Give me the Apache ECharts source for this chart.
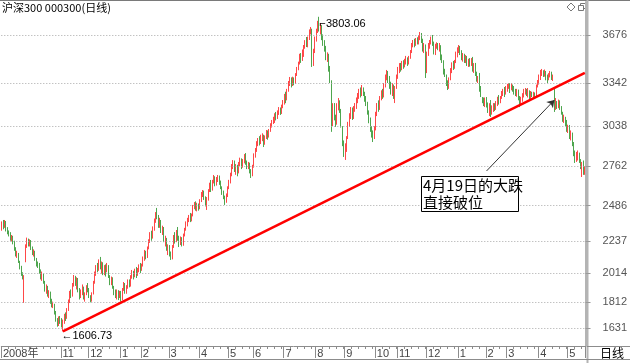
<!DOCTYPE html>
<html><head><meta charset="utf-8">
<script src="https://cdn.jsdelivr.net/npm/echarts@6/dist/echarts.min.js"></script>
<style>html,body{margin:0;padding:0;background:#fff}#c{width:630px;height:363px}</style>
</head><body><div id="c"></div>
<script>
// month labels along the date band and the number of trading days in each
const monthLabels = ['2008年','11','12','1','2','3','4','5','6','7','8','9','10','11','12','1','2','3','4','5'];
const monthDays = [43,20,23,15,20,22,21,18,22,23,21,22,16,21,23,20,15,23,21,13];
// price-axis tick values
const yTicks = [1631,1812,2014,2237,2486,2762,3038,3342,3676];
// daily candles: [open, close, low, high]
const ohlc = [
[2330,2360,2310,2375],[2360,2340,2320,2385],[2340,2372,2330,2385],[2370,2320,2305,2378],[2320,2300,2285,2335],
[2300,2290,2270,2312],[2290,2250,2240,2300],[2250,2270,2235,2280],[2265,2230,2215,2275],[2230,2180,2170,2240],
[2180,2150,2130,2195],[2150,2160,2120,2170],[2150,2095,2085,2155],[2095,2060,2040,2100],[2060,2010,1995,2065],
[2010,1985,1970,2020],[1880,1990,1806,2000],[2100,2200,2090,2215],[2210,2259,2190,2262],[2245,2215,2200,2255],
[2215,2240,2200,2250],[2235,2190,2175,2245],[2190,2160,2140,2200],[2160,2175,2130,2180],[2160,2110,2100,2170],
[2110,2080,2060,2120],[2080,2070,2050,2095],[2070,2030,2010,2085],[2020,1990,1970,2040],[1990,2010,1960,2025],
[2000,1950,1940,2010],[1950,1900,1885,1960],[1900,1920,1870,1935],[1915,1860,1850,1925],[1860,1880,1840,1895],
[1870,1820,1800,1885],[1820,1790,1775,1835],[1790,1805,1770,1815],[1790,1740,1725,1800],[1740,1690,1675,1750],
[1690,1660,1640,1700],[1660,1700,1645,1712],[1700,1680,1660,1715],[1680,1650,1635,1700],[1650,1685,1606.73,1690],
[1690,1720,1660,1730],[1715,1700,1680,1740],[1700,1760,1695,1770],[1760,1820,1750,1830],[1815,1880,1805,1890],
[1880,1860,1840,1900],[1860,1930,1850,1945],[1930,1990,1920,2001],[1985,1940,1925,1995],[1940,1975,1900,1985],
[1970,1900,1880,1980],[1900,1850,1830,1910],[1850,1890,1840,1900],[1890,1920,1860,1935],[1910,1845,1830,1920],
[1845,1870,1815,1880],[1870,1920,1860,1930],[1920,1900,1880,1945],[1900,1850,1840,1910],[1850,1830,1810,1860],
[1830,1870,1815,1880],[1870,1950,1865,1960],[1950,2010,1940,2025],[2005,2060,1995,2070],[2060,2040,2020,2085],
[2040,2100,2030,2110],[2095,2050,2040,2127],[2050,2080,2010,2095],[2075,2020,2000,2090],[2020,2060,2000,2070],
[2060,2030,1990,2075],[2030,2070,2020,2085],[2060,1990,1980,2070],[1990,1950,1930,2000],[1950,1980,1930,1990],
[1975,1920,1905,1985],[1920,1880,1860,1925],[1880,1860,1840,1900],[1860,1890,1830,1900],[1885,1850,1826,1895],
[1850,1880,1840,1890],[1880,1830,1815,1890],[1830,1900,1825,1910],[1900,1940,1890,1952],[1935,1890,1870,1945],
[1890,1920,1870,1930],[1920,1960,1905,1970],[1955,1925,1915,1970],[1925,1990,1920,2000],[1990,2020,1975,2036],
[2010,1990,1970,2030],[1990,2030,1985,2045],[2030,2000,1980,2057],[2000,2040,1995,2050],[2035,2060,2020,2075],
[2060,2040,2015,2085],[2040,2070,2030,2080],[2070,2120,2060,2130],[2115,2160,2100,2176],[2150,2130,2110,2170],
[2130,2190,2120,2200],[2190,2240,2180,2250],[2235,2290,2225,2300],[2285,2260,2240,2310],[2260,2330,2255,2340],
[2325,2380,2310,2395],[2380,2430,2365,2440],[2425,2400,2390,2469],[2400,2350,2330,2420],[2350,2380,2330,2400],
[2370,2310,2294,2385],[2310,2330,2280,2345],[2320,2240,2230,2336],[2240,2260,2200,2275],[2250,2180,2170,2260],
[2180,2200,2140,2215],[2195,2150,2130,2210],[2140,2120,2106,2165],[2120,2200,2110,2210],[2195,2270,2190,2280],
[2265,2240,2220,2300],[2240,2300,2230,2315],[2295,2260,2240,2336],[2260,2220,2196,2275],[2220,2260,2210,2270],
[2250,2215,2200,2265],[2215,2280,2205,2290],[2280,2320,2270,2330],[2320,2360,2310,2375],[2355,2390,2340,2400],
[2390,2400,2370,2420],[2400,2380,2370,2434],[2380,2420,2375,2430],[2420,2480,2410,2490],[2475,2500,2460,2510],
[2495,2460,2450,2515],[2460,2490,2445,2505],[2485,2470,2450,2500],[2470,2520,2460,2530],[2520,2570,2510,2580],
[2565,2590,2545,2594],[2585,2540,2525,2590],[2540,2500,2480,2550],[2500,2530,2455,2545],[2530,2590,2520,2600],
[2590,2630,2580,2645],[2625,2600,2580,2664],[2600,2650,2590,2665],[2650,2680,2640,2699],[2675,2640,2620,2690],
[2640,2670,2625,2685],[2665,2690,2650,2699],[2690,2650,2630,2695],[2650,2610,2600,2660],[2610,2580,2560,2620],
[2580,2540,2530,2590],[2540,2520,2490,2555],[2520,2560,2505,2570],[2555,2610,2545,2620],[2610,2650,2600,2665],
[2650,2700,2640,2715],[2700,2760,2690,2775],[2755,2790,2740,2803],[2785,2740,2720,2800],[2740,2760,2700,2775],
[2755,2720,2690,2770],[2720,2780,2710,2790],[2775,2800,2760,2820],[2800,2760,2740,2815],[2760,2800,2750,2810],
[2795,2830,2780,2845],[2830,2790,2770,2852],[2790,2760,2740,2800],[2760,2780,2740,2790],[2775,2730,2710,2785],
[2730,2700,2678,2740],[2700,2760,2690,2770],[2760,2840,2750,2850],[2840,2870,2820,2887],[2870,2920,2860,2935],
[2915,2950,2900,2957],[2945,2930,2905,2970],[2930,2960,2915,2980],[2955,2975,2935,2990],[2970,2920,2894,2980],
[2920,2960,2910,2975],[2960,3000,2950,3013],[2995,2970,2945,3010],[2970,3010,2960,3020],[3010,3050,3000,3060],
[3045,3070,3030,3083],[3070,3090,3055,3105],[3085,3120,3062,3130],[3120,3100,3080,3139],[3100,3140,3090,3150],
[3140,3160,3118,3173],[3155,3130,3118,3170],[3130,3180,3125,3190],[3180,3200,3165,3222],[3200,3250,3190,3265],
[3250,3230,3200,3280],[3230,3290,3220,3300],[3290,3340,3280,3355],[3335,3370,3320,3383],[3365,3330,3310,3380],
[3330,3370,3320,3385],[3365,3340,3325,3380],[3340,3400,3335,3410],[3400,3440,3390,3453],[3440,3480,3430,3490],
[3480,3530,3470,3545],[3525,3500,3481,3550],[3500,3560,3495,3575],[3555,3590,3523,3606],[3590,3620,3580,3640],
[3615,3600,3592,3662],[3600,3650,3590,3665],[3650,3700,3641,3715],[3695,3720,3680,3732],[3700,3480,3453,3720],
[3480,3560,3460,3580],[3560,3650,3550,3665],[3650,3700,3630,3720],[3700,3760,3690,3775],[3760,3720,3700,3803.06],
[3720,3740,3680,3760],[3735,3660,3640,3745],[3660,3620,3600,3680],[3620,3580,3560,3640],[3580,3520,3500,3600],
[3520,3540,3488,3555],[3530,3440,3420,3545],[3440,3360,3341,3460],[3350,3040,3000,3360],[3060,3180,3040,3200],
[3170,3100,3080,3201],[3100,3050,3034,3120],[3060,3180,3050,3200],[3170,3210,3150,3236],[3200,3150,3132,3220],
[3150,3040,3030,3160],[3030,2920,2900,3040],[2920,2850,2825,2940],[2850,2900,2804,2920],[2880,2960,2860,2970],
[2960,3050,2950,3070],[3050,3110,3034,3130],[3100,3150,3090,3173],[3150,3100,3083,3170],[3100,3160,3090,3180],
[3155,3190,3140,3201],[3185,3220,3160,3240],[3215,3250,3200,3271],[3245,3280,3230,3300],[3280,3260,3240,3310],
[3260,3300,3250,3327],[3295,3270,3250,3310],[3270,3230,3210,3280],[3230,3200,3180,3250],[3200,3140,3120,3210],
[3140,3080,3060,3150],[3080,3020,3000,3100],[3020,2990,2960,3040],[2990,2960,2929,3010],[2960,3020,2950,3040],
[3020,3120,3010,3140],[3120,3180,3110,3201],[3180,3160,3140,3220],[3160,3230,3153,3250],[3230,3270,3220,3290],
[3265,3250,3230,3300],[3250,3320,3240,3340],[3320,3380,3310,3400],[3380,3420,3360,3432],[3415,3370,3341,3425],
[3370,3330,3300,3390],[3330,3290,3260,3350],[3290,3320,3250,3340],[3310,3260,3230,3330],[3260,3310,3201,3320],
[3310,3380,3300,3400],[3380,3430,3370,3453],[3430,3460,3410,3480],[3455,3440,3420,3481],[3440,3480,3430,3495],
[3475,3460,3440,3500],[3460,3490,3450,3510],[3490,3510,3470,3530],[3505,3480,3460,3520],[3480,3520,3470,3530],
[3520,3560,3510,3571],[3555,3600,3550,3620],[3600,3630,3590,3641],[3625,3610,3590,3650],[3610,3640,3600,3655],
[3640,3620,3610,3660],[3620,3660,3610,3675],[3655,3680,3640,3697],[3675,3640,3620,3690],[3640,3580,3560,3650],
[3580,3600,3550,3620],[3600,3420,3376,3610],[3420,3540,3410,3560],[3540,3600,3530,3620],[3600,3630,3580,3641],
[3625,3650,3610,3665],[3650,3620,3600,3676],[3620,3560,3540,3630],[3560,3600,3536,3615],[3595,3610,3580,3625],
[3605,3580,3570,3620],[3580,3600,3560,3620],[3595,3520,3500,3605],[3520,3490,3481,3540],[3490,3420,3400,3500],
[3420,3390,3383,3440],[3390,3340,3320,3400],[3330,3310,3292,3360],[3310,3370,3300,3380],[3370,3430,3360,3445],
[3425,3470,3410,3485],[3465,3450,3432,3495],[3450,3490,3440,3502],[3490,3540,3480,3560],[3535,3575,3520,3590],
[3570,3590,3550,3606],[3585,3560,3536,3600],[3560,3520,3500,3570],[3520,3540,3490,3550],[3535,3500,3481,3545],
[3500,3520,3480,3536],[3515,3480,3460,3530],[3480,3500,3453,3510],[3495,3470,3455,3515],[3470,3500,3460,3515],
[3495,3440,3420,3523],[3440,3470,3411,3480],[3465,3400,3390,3481],[3400,3360,3350,3420],[3360,3370,3341,3390],
[3365,3300,3280,3411],[3300,3260,3243,3320],[3260,3220,3200,3243],[3220,3200,3180,3240],[3200,3230,3173,3240],
[3225,3190,3170,3243],[3190,3150,3132,3205],[3150,3180,3110,3200],[3175,3130,3104,3222],[3130,3170,3120,3185],
[3165,3190,3139,3201],[3185,3160,3145,3200],[3160,3200,3153,3215],[3195,3230,3180,3245],[3225,3210,3190,3257],
[3210,3240,3200,3250],[3240,3270,3230,3285],[3265,3290,3250,3300],[3285,3270,3243,3313],[3270,3300,3260,3320],
[3300,3320,3280,3335],[3315,3330,3300,3341],[3330,3300,3271,3340],[3300,3320,3290,3341],[3315,3300,3280,3330],
[3300,3280,3260,3320],[3280,3260,3250,3300],[3260,3290,3245,3300],[3285,3240,3220,3295],[3240,3200,3173,3250],
[3200,3230,3190,3245],[3225,3260,3210,3270],[3255,3280,3240,3300],[3275,3290,3260,3306],[3285,3260,3250,3300],
[3260,3280,3240,3306],[3275,3240,3222,3290],[3240,3270,3230,3285],[3265,3250,3243,3280],[3250,3270,3240,3280],
[3265,3250,3240,3275],[3250,3320,3245,3330],[3315,3350,3310,3362],[3345,3380,3330,3400],[3375,3410,3362,3432],
[3405,3420,3390,3439],[3415,3400,3383,3430],[3400,3420,3385,3435],[3415,3380,3360,3425],[3380,3370,3341,3400],
[3370,3400,3360,3410],[3395,3410,3380,3425],[3405,3380,3362,3420],[3380,3390,3355,3400],[3300,3170,3139,3305],
[3170,3200,3153,3236],[3195,3180,3160,3215],[3180,3210,3165,3225],[3205,3170,3153,3220],[3170,3130,3120,3180],
[3130,3090,3070,3140],[3090,3100,3062,3120],[3095,3060,3040,3105],[3060,3020,3000,3083],[3020,3040,2992,3050],
[3035,2960,2950,3048],[2960,2990,2940,3010],[2985,2910,2900,2995],[2910,2850,2830,2929],[2850,2800,2783,2870],
[2800,2830,2790,2860],[2825,2850,2800,2870],[2845,2800,2783,2855],[2800,2760,2740,2810],[2760,2780,2685,2790],
[2775,2720,2700,2800],[2720,2740,2700,2760]
];
// marked extremes [candle index, value]
const lowMark = [44, 1606.73];
const highMark = [229, 3803.06];
// hand-drawn support line and the note's arrow, [candle index, value] pairs
const trendLine = [[44, 1606.73], [421, 3411]];
const noteArrow = [[350, 2727], [399, 3222]];
const noteLines = ['4月19日的大跌', '直接破位'];
const titleText = '沪深300 000300(日线)';

// build categories from the month table
const cats = [];
const monthStartLabel = {};
const weekTick = {};
monthDays.forEach((n, m) => {
  for (let d = 0; d < n; d++) {
    const idx = cats.length;
    if (d === 0) monthStartLabel[idx] = monthLabels[m];
    else if (d % 5 === 0) weekTick[idx] = true;
    cats.push(m + '-' + d);
  }
});
const isMonthStart = (i) => monthStartLabel[i] !== undefined;

const chart = echarts.init(document.getElementById('c'), null, {renderer: 'canvas'});
const gray = '#8c8c8c';
chart.setOption({
  animation: false,
  backgroundColor: '#fff',
  grid: {left: 0, right: 43, top: 2, bottom: 17, containLabel: false},
  xAxis: [{
    type: 'category', data: cats, boundaryGap: true, position: 'bottom',
    axisLine: {show: true, lineStyle: {color: gray, width: 1}},
    axisTick: {show: true, interval: (i) => isMonthStart(i), length: 12, lineStyle: {color: gray}},
    axisLabel: {show: true, interval: (i) => isMonthStart(i), formatter: (v, i) => monthStartLabel[i] || '',
      align: 'left', margin: 2, color: '#444', fontSize: 11,
      fontFamily: '"Liberation Sans", "Noto Sans CJK SC", sans-serif', padding: [0, 0, 0, 1]},
    splitLine: {show: false}
  }, {
    type: 'category', data: cats, boundaryGap: true, position: 'bottom',
    axisLine: {show: false},
    axisTick: {show: true, interval: (i) => !!weekTick[i], length: 3, lineStyle: {color: gray}},
    axisLabel: {show: false}, splitLine: {show: false}
  }],
  yAxis: {
    type: 'value', position: 'right', min: 1505.4, max: 3906.3, scale: true,
    axisLine: {show: true, lineStyle: {color: '#b4b4b4', width: 2}},
    axisTick: {show: true, customValues: yTicks, length: 5, lineStyle: {color: '#999'}},
    axisLabel: {show: true, customValues: yTicks, formatter: (v) => String(Math.round(v)), color: '#555', fontSize: 11,
      fontFamily: '"Liberation Sans", sans-serif', margin: 17},
    splitLine: {show: false}
  },
  series: [{
    type: 'line', data: [], z: 1, silent: true,
    markLine: {
      silent: true, symbol: ['none', 'none'], animation: false,
      label: {show: false},
      lineStyle: {color: '#a8a8a8', type: [1, 2], width: 1},
      data: yTicks.map(v => ({yAxis: v}))
    }
  }, {
    type: 'candlestick', data: ohlc, z: 2, barWidth: 1,
    itemStyle: {color: '#ff8080', color0: '#7cc27c', borderColor: '#ff4848', borderColor0: '#4ea64e', borderWidth: 1},
    markPoint: {
      symbol: 'circle', symbolSize: 1, silent: true, animation: false,
      itemStyle: {color: 'rgba(0,0,0,0)'},
      label: {show: true, position: 'right', distance: 0, color: '#000', fontSize: 11,
        fontFamily: '"Liberation Sans", "DejaVu Sans", sans-serif'},
      data: [
        {coord: lowMark, label: {formatter: '←' + lowMark[1].toFixed(2), offset: [-2, 4]}},
        {coord: highMark, label: {formatter: '⌐' + highMark[1].toFixed(2), offset: [0, 7]}}
      ]
    }
  }, {
    type: 'line', data: [], z: 3, silent: true,
    markLine: {
      silent: true, animation: false, label: {show: false},
      data: [
        [{coord: trendLine[0], symbol: 'none', lineStyle: {color: '#ff0000', width: 2.5, type: 'solid'}},
         {coord: trendLine[1], symbol: 'none'}],
        [{coord: noteArrow[0], symbol: 'none', lineStyle: {color: '#333', width: 1, type: 'solid'}},
         {coord: noteArrow[1], symbol: 'arrow', symbolSize: 7}]
      ]
    }
  }],
  graphic: [
    {type: 'line', shape: {x1: 0, y1: 0.5, x2: 630, y2: 0.5}, style: {stroke: '#7a7a7a', lineWidth: 1}, silent: true},
    {type: 'line', shape: {x1: 587.5, y1: 0, x2: 587.5, y2: 363}, style: {stroke: '#b4b4b4', lineWidth: 2}, silent: true},
    {type: 'line', shape: {x1: 587, y1: 346.5, x2: 630, y2: 346.5}, style: {stroke: gray, lineWidth: 1}, silent: true},
    {type: 'line', shape: {x1: 0, y1: 359.5, x2: 630, y2: 359.5}, style: {stroke: gray, lineWidth: 1}, silent: true},
    {type: 'text', left: 2, top: 2, style: {text: titleText, fill: '#000',
      font: '11px "Noto Sans CJK SC", sans-serif'}, silent: true},
    {type: 'polygon', shape: {points: [[571, 3], [575, 7], [571, 11], [567, 7]]},
      style: {fill: 'none', stroke: '#777', lineWidth: 1}, silent: true},
    {type: 'rect', shape: {x: 580.5, y: 3.5, width: 5, height: 5}, style: {fill: '#fff', stroke: '#777'}, silent: true},
    {type: 'rect', shape: {x: 578.5, y: 5.5, width: 5, height: 5}, style: {fill: '#fff', stroke: '#777'}, silent: true},
    {type: 'text', left: 600, top: 347, style: {text: '日线', fill: '#000',
      font: '12px "Noto Sans CJK SC", sans-serif'}, silent: true},
    {type: 'rect', z: 100, shape: {x: 421.5, y: 176.5, width: 97, height: 35},
      style: {fill: '#fff', stroke: '#000', lineWidth: 1}, silent: true},
    {type: 'text', z: 101, left: 423, top: 177, style: {text: noteLines.join('\n'), fill: '#000',
      font: '15px "Noto Sans CJK SC", sans-serif', lineHeight: 17}, silent: true}
  ]
});
</script>
</body></html>
